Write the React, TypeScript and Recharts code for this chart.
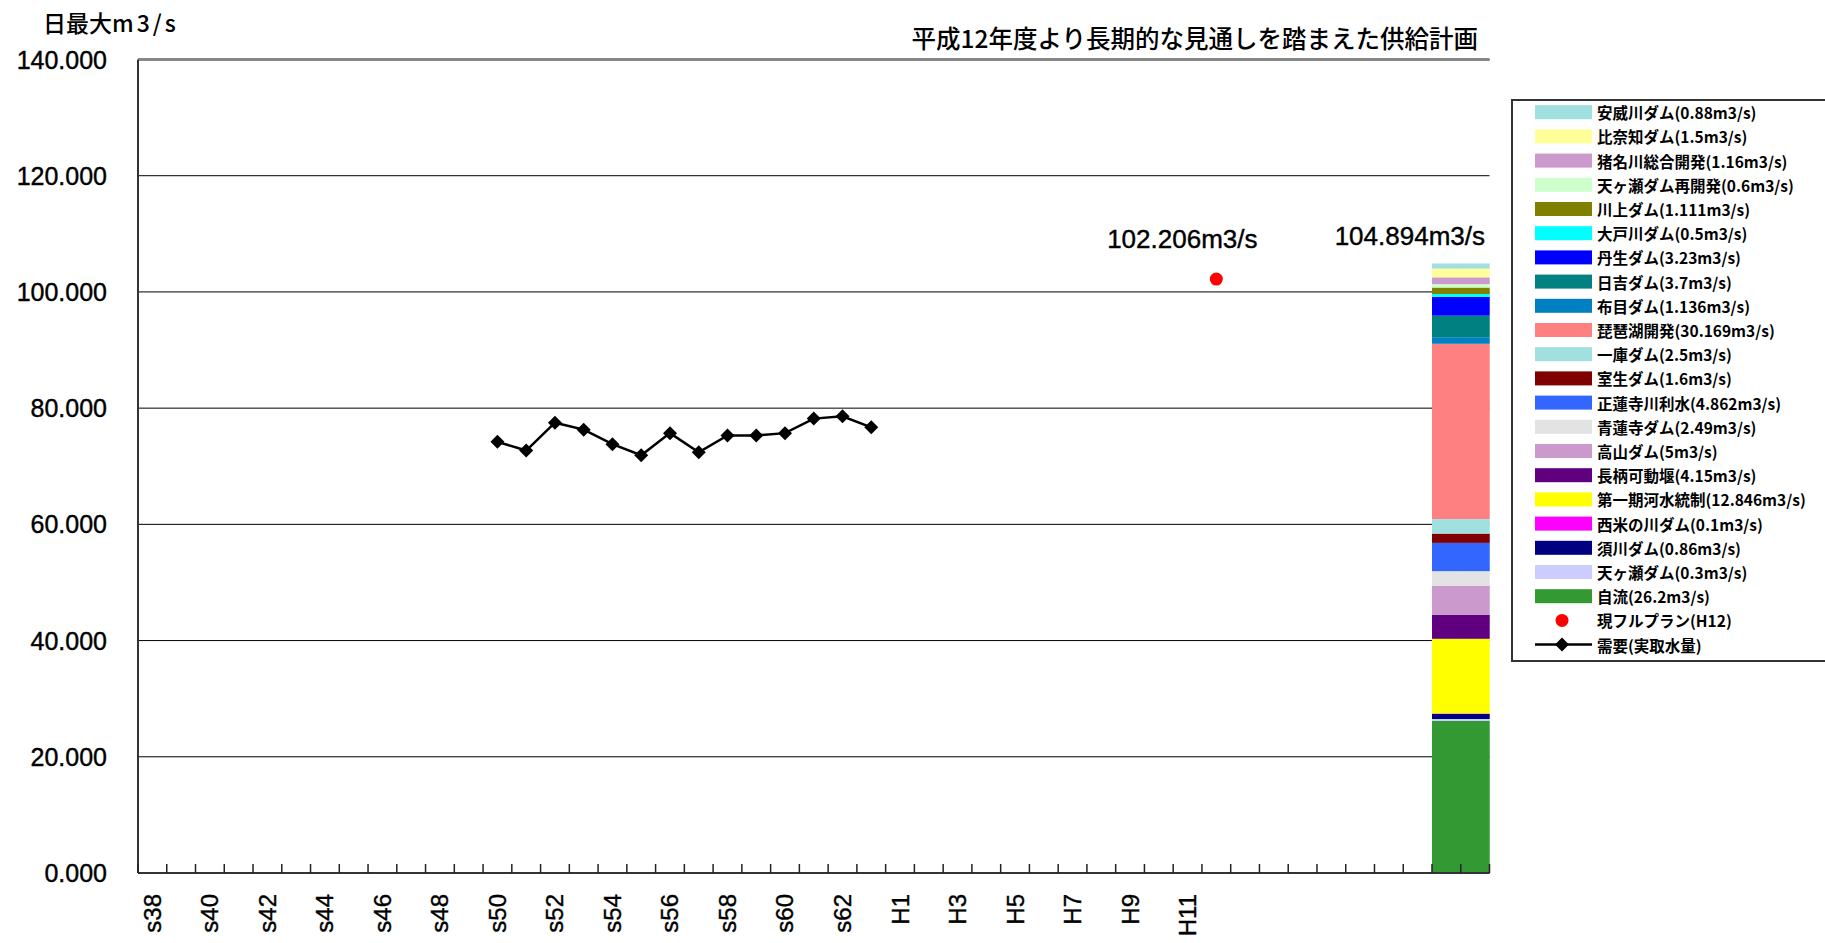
import React from 'react'
import { ComposedChart, Bar, Line, XAxis, YAxis, CartesianGrid, ReferenceLine, Legend, LabelList } from 'recharts'

// fiscal years on the category axis (Showa s38..s63, Heisei H1..H21)
const years = [
  's38', 's39', 's40', 's41', 's42', 's43', 's44', 's45', 's46', 's47', 's48', 's49', 's50',
  's51', 's52', 's53', 's54', 's55', 's56', 's57', 's58', 's59', 's60', 's61', 's62', 's63',
  'H1', 'H2', 'H3', 'H4', 'H5', 'H6', 'H7', 'H8', 'H9', 'H10', 'H11', 'H12', 'H13', 'H14',
  'H15', 'H16', 'H17', 'H18', 'H19', 'H20', 'H21',
]
const tickLabels = [
  's38', 's40', 's42', 's44', 's46', 's48', 's50', 's52', 's54', 's56', 's58', 's60', 's62',
  'H1', 'H3', 'H5', 'H7', 'H9', 'H11',
]
const yTicks = [0, 20, 40, 60, 80, 100, 120, 140]

// 需要(実取水量)
const demandYears = ['s50', 's51', 's52', 's53', 's54', 's55', 's56', 's57', 's58', 's59', 's60', 's61', 's62', 's63']
const demandValues = [74.2, 72.7, 77.5, 76.3, 73.8, 71.9, 75.7, 72.4, 75.3, 75.3, 75.7, 78.2, 78.6, 76.7]

// 現フルプラン(H12)
const planYear = 'H12'
const planValue = 102.206

// supply plan, stacked bottom -> top
const supplyYears = ['H20', 'H21']
const supplyNames = [
  '自流', '天ヶ瀬ダム', '須川ダム', '西米の川ダム', '第一期河水統制', '長柄可動堰', '高山ダム',
  '青蓮寺ダム', '正蓮寺川利水', '室生ダム', '一庫ダム', '琵琶湖開発', '布目ダム', '日吉ダム',
  '丹生ダム', '大戸川ダム', '川上ダム', '天ヶ瀬ダム再開発', '猪名川総合開発', '比奈知ダム', '安威川ダム',
]
const supplyValues = [
  26.2, 0.3, 0.86, 0.1, 12.846, 4.15, 5, 2.49, 4.862, 1.6, 2.5, 30.169, 1.136, 3.7, 3.23, 0.5,
  1.111, 0.6, 1.16, 1.5, 0.88,
]
const supplyColors = [
  '#339933', '#CCCCFF', '#000080', '#FF00FF', '#FFFF00', '#600080', '#CC99CC', '#E3E3E3', '#3366FF',
  '#800000', '#A0E0E0', '#FF8080', '#0080C0', '#008080', '#0000FF', '#00FFFF', '#808000', '#CCFFCC',
  '#CC99CC', '#FFFF99', '#A0E0E0',
]

const W = 1825
const H = 943
const PLOT_LEFT = 138
const PLOT_RIGHT = 1489.5
const PLOT_TOP = 59.5
const PLOT_BOTTOM = 873
const BAND = (PLOT_RIGHT - PLOT_LEFT) / years.length
const LATIN = '"Liberation Sans", Arial, sans-serif'
const JP = '"Noto Sans CJK JP", sans-serif'

const data = years.map((year) => {
  const row: { [key: string]: string | number | null } = { year }
  const d = demandYears.indexOf(year)
  row.demand = d >= 0 ? demandValues[d] : null
  row.plan = year === planYear ? planValue : null
  if (supplyYears.includes(year)) {
    supplyValues.forEach((v, i) => { row['s' + i] = v })
  }
  return row
})
const supplyTotal = supplyValues.reduce((a, b) => a + b, 0)
const fmt = (v: number) => v.toFixed(3) + 'm3/s'

const XTick = (props: any) => {
  const { x, payload, index } = props
  const show = tickLabels.includes(payload.value)
  return (
    <g>
      <line x1={x - BAND / 2} x2={x - BAND / 2} y1={PLOT_BOTTOM - 9} y2={PLOT_BOTTOM} stroke="#222" strokeWidth={1.5} />
      {index === years.length - 1 && (
        <line x1={x + BAND / 2} x2={x + BAND / 2} y1={PLOT_BOTTOM - 9} y2={PLOT_BOTTOM} stroke="#222" strokeWidth={1.5} />
      )}
      {show && (
        <text transform={`translate(${x},894) rotate(-90)`} textAnchor="end" dominantBaseline="central"
          fontSize={24} fontFamily={LATIN} fill="#000" stroke="#000" strokeWidth={0.4}>{payload.value}</text>
      )}
    </g>
  )
}

const YTick = (props: any) => (
  <text x={107} y={props.y} textAnchor="end" dominantBaseline="central" fontSize={25} fontFamily={LATIN}
    fill="#000" stroke="#000" strokeWidth={0.4}>
    {Number(props.payload.value).toFixed(3)}
  </text>
)

const Diamond = (p: any) => {
  if (p.cy == null || p.value == null || isNaN(p.cy)) return <g key={p.index} />
  const { cx, cy } = p
  return <path key={p.index} d={`M${cx},${cy - 7}L${cx + 7},${cy}L${cx},${cy + 7}L${cx - 7},${cy}Z`} fill="#000" />
}

const RedDot = (p: any) => {
  if (p.cy == null || p.value == null || isNaN(p.cy)) return <g key={p.index} />
  return <circle key={p.index} cx={p.cx} cy={p.cy} r={6.5} fill="#FF0000" />
}

const PlanLabel = (p: any) => {
  if (p.value == null) return null
  return (
    <text x={p.x - 34} y={p.y - 40} textAnchor="middle" dominantBaseline="central" fontSize={26} fontFamily={LATIN}
      fill="#000" stroke="#000" strokeWidth={0.4}>
      {fmt(Number(p.value))}
    </text>
  )
}

const TotalLabel = (p: any) => {
  if (p.value == null || p.x + p.width > PLOT_RIGHT - 2) return null
  return (
    <text x={p.x + 2 * p.width - 5} y={p.y - 27} textAnchor="end" dominantBaseline="central" fontSize={26} fontFamily={LATIN}
      fill="#000" stroke="#000" strokeWidth={0.4}>
      {fmt(supplyTotal)}
    </text>
  )
}

const legendItems = [
  ...supplyNames.map((name, i) => ({ label: `${name}(${supplyValues[i]}m3/s)`, color: supplyColors[i], kind: 'rect' })).reverse(),
  { label: '現フルプラン(H12)', color: '#FF0000', kind: 'dot' },
  { label: '需要(実取水量)', color: '#000', kind: 'line' },
]

const LegendBox = () => (
  <div style={{ width: 330, height: 563, border: '2px solid #333', boxSizing: 'border-box', background: '#fff' }}>
    <svg width={326} height={559} style={{ display: 'block' }}>
      {legendItems.map((it, i) => {
        const cy = 11.2 + i * 24.2
        return (
          <g key={it.label}>
            {it.kind === 'rect' && <rect x={22} y={cy - 7} width={57} height={14} fill={it.color} />}
            {it.kind === 'dot' && <circle cx={49} cy={cy} r={6.5} fill={it.color} />}
            {it.kind === 'line' && (
              <g>
                <line x1={22} x2={79} y1={cy} y2={cy} stroke="#000" strokeWidth={2.5} />
                <path d={`M49,${cy - 7}L56,${cy}L49,${cy + 7}L42,${cy}Z`} fill="#000" />
              </g>
            )}
            <text x={84} y={cy} dominantBaseline="central" fontSize={15.5} fontWeight={600} fontFamily={JP} fill="#000">
              {it.label}
            </text>
          </g>
        )
      })}
    </svg>
  </div>
)

export default function App() {
  return (
    <div style={{ position: 'absolute', left: 0, top: 0, width: W, height: H, overflow: 'hidden', background: '#fff' }}>
      <div style={{ position: 'absolute', left: 43, top: 6, fontSize: 23, fontFamily: JP, fontWeight: 500, color: '#000', lineHeight: '32px', zIndex: 2 }}>
        日最大<span style={{ letterSpacing: 3 }}>m3/s</span>
      </div>
      <div style={{ position: 'absolute', right: W - 1478, top: 21, fontSize: 24.5, fontFamily: JP, fontWeight: 500, color: '#000', lineHeight: '34px', zIndex: 2 }}>
        平成12年度より長期的な見通しを踏まえた供給計画
      </div>
      <ComposedChart width={W} height={H} data={data} barCategoryGap={0}
        margin={{ top: PLOT_TOP, right: W - PLOT_RIGHT, bottom: 0, left: 0 }}>
        <CartesianGrid vertical={false} stroke="#000" strokeWidth={1} />
        {supplyNames.map((name, i) => (
          <Bar key={name} name={name} dataKey={'s' + i} stackId="supply" fill={supplyColors[i]} isAnimationActive={false}>
            {i === supplyNames.length - 1 && <LabelList dataKey={'s' + i} content={TotalLabel} />}
          </Bar>
        ))}
        <Line dataKey="demand" name="需要(実取水量)" stroke="#000" strokeWidth={2.5} dot={Diamond} activeDot={false} isAnimationActive={false} />
        <Line dataKey="plan" name="現フルプラン(H12)" stroke="none" dot={RedDot} activeDot={false} isAnimationActive={false}>
          <LabelList dataKey="plan" content={PlanLabel} />
        </Line>
        <ReferenceLine y={140} stroke="#888" strokeWidth={3} />
        <XAxis dataKey="year" interval={0} height={H - PLOT_BOTTOM} tickLine={false}
          axisLine={{ stroke: '#333', strokeWidth: 2 }} tick={<XTick />} />
        <YAxis width={PLOT_LEFT} domain={[0, 140]} ticks={yTicks} interval={0} tickLine={false}
          axisLine={{ stroke: '#333', strokeWidth: 2 }} tick={<YTick />} />
        <YAxis yAxisId="r" orientation="right" width={0} domain={[0, 140]} tick={false} tickLine={false}
          axisLine={{ stroke: '#888', strokeWidth: 3 }} />
        <Legend layout="vertical" align="center" verticalAlign="middle" content={<LegendBox />}
          wrapperStyle={{ left: 1511, top: 99, width: 330, height: 563 }} />
      </ComposedChart>
    </div>
  )
}
